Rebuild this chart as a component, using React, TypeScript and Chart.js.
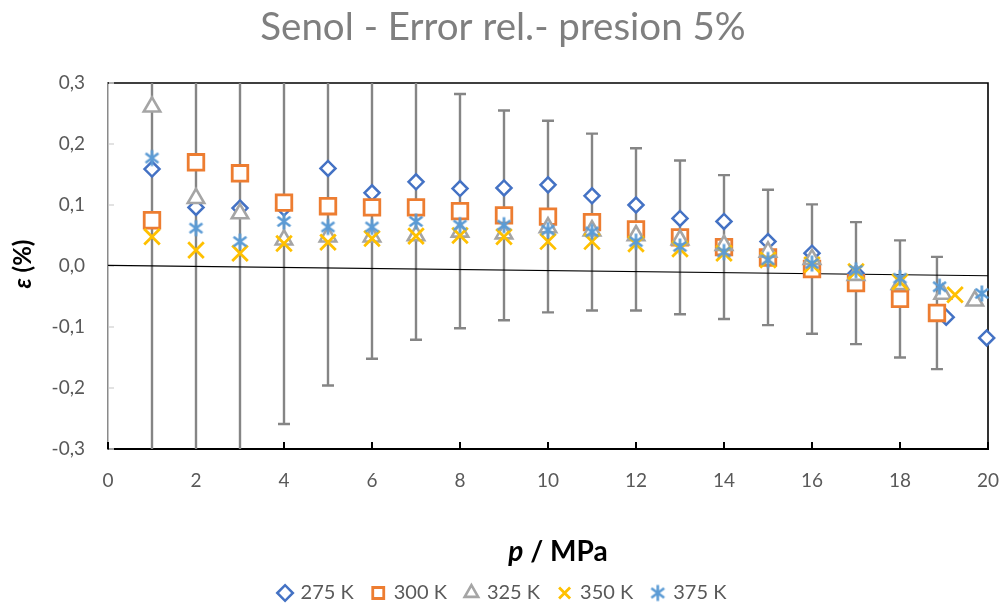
import React, { useEffect, useRef } from "react";
import { Chart, registerables } from "chart.js";

Chart.register(...registerables);

// Relative pressure error (%) per isotherm, p in MPa
const p275 = [1, 2, 3, 4, 5, 6, 7, 8, 9, 10, 11, 12, 13, 14, 15, 16, 17, 18, 19.05, 19.97];
const e275 = [0.159, 0.096, 0.095, 0.095, 0.16, 0.12, 0.138, 0.127, 0.128, 0.133, 0.115, 0.1, 0.078, 0.073, 0.04, 0.021, -0.012, -0.04, -0.084, -0.118];

const p300 = [1, 2, 3, 4, 5, 6, 7, 8, 9, 10, 11, 12, 13, 14, 15, 16, 17, 18, 18.84];
const e300 = [0.075, 0.17, 0.152, 0.104, 0.098, 0.096, 0.096, 0.09, 0.083, 0.081, 0.072, 0.06, 0.047, 0.031, 0.014, -0.005, -0.028, -0.054, -0.077];
// uncertainty (±) attached to the 300 K series
const u300 = [1.45, 0.73, 0.49, 0.363, 0.294, 0.248, 0.217, 0.192, 0.172, 0.157, 0.145, 0.133, 0.126, 0.118, 0.111, 0.106, 0.1, 0.096, 0.092];

const p325 = [1, 2, 3, 4, 5, 6, 7, 8, 9, 10, 11, 12, 13, 14, 15, 16, 17, 18, 18.97, 19.7];
const e325 = [0.261, 0.111, 0.086, 0.043, 0.048, 0.048, 0.05, 0.056, 0.053, 0.063, 0.058, 0.05, 0.043, 0.034, 0.023, 0.011, -0.015, -0.03, -0.046, -0.057];

const p350 = [1, 2, 3, 4, 5, 6, 7, 8, 9, 10, 11, 12, 13, 14, 15, 16, 17, 18, 19.25];
const e350 = [0.048, 0.026, 0.021, 0.037, 0.039, 0.045, 0.049, 0.05, 0.048, 0.04, 0.04, 0.036, 0.028, 0.021, 0.01, 0.002, -0.009, -0.026, -0.047];

const p375 = [1, 2, 3, 4, 5, 6, 7, 8, 9, 10, 11, 12, 13, 14, 15, 16, 17, 18, 18.9, 19.86];
const e375 = [0.177, 0.062, 0.04, 0.073, 0.064, 0.064, 0.073, 0.067, 0.067, 0.059, 0.056, 0.04, 0.032, 0.023, 0.01, 0.004, -0.007, -0.02, -0.034, -0.045];

// linear trend line end points
const trendP = [0, 20];
const trendE = [0.001, -0.016];

const seriesLabels = ["275 K", "300 K", "325 K", "350 K", "375 K"];
const titleText = "Senol - Error rel.- presion 5%";

const FONT = "Lato, 'DejaVu Sans', sans-serif";
const TEXT_GRAY = "#595959";
const PLOT_BOTTOM = 449;
const PAD_BOTTOM = -7;

const toPoints = (xs: number[], ys: number[]) => xs.map((x, i) => ({ x, y: ys[i] }));

function makeAsterisk(color: string, size: number) {
  const c = document.createElement("canvas");
  c.width = size;
  c.height = size;
  const g = c.getContext("2d")!;
  const m = size / 2;
  const r = size / 2 - 1.5;
  g.strokeStyle = color;
  g.lineWidth = 2.6;
  g.beginPath();
  g.moveTo(m, m - r);
  g.lineTo(m, m + r);
  g.moveTo(m - r * 0.8, m - r * 0.6);
  g.lineTo(m + r * 0.8, m + r * 0.6);
  g.moveTo(m + r * 0.8, m - r * 0.6);
  g.lineTo(m - r * 0.8, m + r * 0.6);
  g.stroke();
  return c;
}

const decorPlugin = {
  id: "decor",
  beforeDatasetsDraw(chart: any) {
    const { ctx, chartArea: a, scales } = chart;
    const xs = scales.x;
    const ys = scales.y;
    ctx.save();
    // plot frame: top and right edges
    ctx.strokeStyle = "#000";
    ctx.lineWidth = 1.6;
    ctx.beginPath();
    ctx.moveTo(a.left, a.top);
    ctx.lineTo(a.right, a.top);
    ctx.lineTo(a.right, a.bottom);
    ctx.stroke();
    // inner tick marks on x axis
    ctx.lineWidth = 2;
    ctx.beginPath();
    xs.ticks.forEach((t: any) => {
      const px = xs.getPixelForValue(t.value);
      ctx.moveTo(px, a.bottom);
      ctx.lineTo(px, a.bottom - 7);
    });
    ctx.stroke();
    // light inner tick marks on y axis
    ctx.strokeStyle = "#d9d9d9";
    ctx.lineWidth = 1.5;
    ctx.beginPath();
    ys.ticks.forEach((t: any) => {
      const py = ys.getPixelForValue(t.value);
      ctx.moveTo(a.left + 1, py);
      ctx.lineTo(a.left + 6, py);
    });
    ctx.stroke();
    // error bars on the 300 K series
    ctx.beginPath();
    ctx.rect(a.left, a.top, a.right - a.left, a.bottom - a.top);
    ctx.clip();
    ctx.strokeStyle = "#858585";
    ctx.lineWidth = 2.4;
    ctx.beginPath();
    p300.forEach((p, i) => {
      const px = xs.getPixelForValue(p);
      const hi = ys.getPixelForValue(e300[i] + u300[i]);
      const lo = ys.getPixelForValue(e300[i] - u300[i]);
      ctx.moveTo(px, hi);
      ctx.lineTo(px, lo);
      ctx.moveTo(px - 6, hi);
      ctx.lineTo(px + 6, hi);
      ctx.moveTo(px - 6, lo);
      ctx.lineTo(px + 6, lo);
    });
    ctx.stroke();
    ctx.restore();
  },
  afterDraw(chart: any) {
    const { ctx, chartArea: a } = chart;
    ctx.save();
    ctx.fillStyle = "#000";
    ctx.textBaseline = "middle";
    ctx.textAlign = "left";
    // x axis title: p / MPa
    const xIt = `italic bold 28px ${FONT}`;
    const xB = `bold 28px ${FONT}`;
    ctx.font = xIt;
    const w1 = ctx.measureText("p").width;
    ctx.font = xB;
    const w2 = ctx.measureText(" / MPa").width;
    let x0 = 558 - (w1 + w2) / 2;
    ctx.font = xIt;
    ctx.fillText("p", x0, 552);
    ctx.font = xB;
    ctx.fillText(" / MPa", x0 + w1, 552);
    // y axis title: ε (%)
    const yIt = `italic bold 24px ${FONT}`;
    const yB = `bold 24px ${FONT}`;
    ctx.translate(23, (a.top + a.bottom) / 2 - 2);
    ctx.rotate(-Math.PI / 2);
    ctx.font = yIt;
    const v1 = ctx.measureText("ε").width;
    ctx.font = yB;
    const v2 = ctx.measureText(" (%)").width;
    x0 = -(v1 + v2) / 2;
    ctx.font = yIt;
    ctx.fillText("ε", x0, 0);
    ctx.font = yB;
    ctx.fillText(" (%)", x0 + v1, 0);
    ctx.restore();
  },
};

export default function App() {
  const canvasRef = useRef<HTMLCanvasElement | null>(null);

  useEffect(() => {
    const star = makeAsterisk("#5B9BD5", 19);
    const common = { showLine: false, clip: false as any };
    const chart = new Chart(canvasRef.current!, {
      type: "scatter",
      data: {
        datasets: [
          {
            ...common,
            label: seriesLabels[0],
            data: toPoints(p275, e275),
            pointStyle: "rectRot",
            pointRadius: 7.5,
            pointBorderWidth: 2.5,
            borderColor: "#4472C4",
            backgroundColor: "#ffffff",
            order: 4,
          },
          {
            ...common,
            label: seriesLabels[1],
            data: toPoints(p300, e300),
            pointStyle: "rect",
            pointRadius: 11,
            pointBorderWidth: 2.8,
            borderColor: "#ED7D31",
            backgroundColor: "#ffffff",
            order: 3,
          },
          {
            ...common,
            label: seriesLabels[2],
            data: toPoints(p325, e325),
            pointStyle: "triangle",
            pointRadius: 9.5,
            pointBorderWidth: 2.6,
            borderColor: "#A5A5A5",
            backgroundColor: "#ffffff",
            order: 2,
          },
          {
            ...common,
            label: seriesLabels[3],
            data: toPoints(p350, e350),
            pointStyle: "crossRot",
            pointRadius: 11,
            pointBorderWidth: 2.8,
            borderColor: "#FFC000",
            backgroundColor: "#FFC000",
            order: 1,
          },
          {
            ...common,
            label: seriesLabels[4],
            data: toPoints(p375, e375),
            pointStyle: star as any,
            pointRadius: 9,
            pointBorderWidth: 2.6,
            borderColor: "#5B9BD5",
            backgroundColor: "#5B9BD5",
            order: 0,
          },
          {
            label: "trend",
            data: toPoints(trendP, trendE),
            showLine: true,
            borderColor: "#000000",
            borderWidth: 1.2,
            pointRadius: 0,
            order: 10,
          },
        ],
      },
      options: {
        animation: false,
        responsive: true,
        maintainAspectRatio: false,
        layout: { autoPadding: false, padding: { left: 0, right: -3, top: 0, bottom: PAD_BOTTOM } },
        plugins: {
          title: {
            display: true,
            text: titleText,
            color: "#7f7f7f",
            font: { family: FONT, size: 38.5, weight: "normal" },
            padding: { top: 4, bottom: 32.8 },
          },
          legend: {
            display: true,
            position: "bottom",
            labels: {
              usePointStyle: true,
              boxWidth: 11,
              boxHeight: 11,
              padding: 19,
              color: TEXT_GRAY,
              font: { family: FONT, size: 20 },
              filter: (item: any) => item.datasetIndex < 5,
              sort: (a: any, b: any) => a.datasetIndex - b.datasetIndex,
            },
          },
          tooltip: { enabled: false },
        },
        scales: {
          x: {
            type: "linear",
            min: 0,
            max: 20,
            border: { display: true, color: "#000", width: 2 },
            grid: { display: false, drawTicks: false },
            ticks: {
              stepSize: 2,
              padding: 20,
              color: TEXT_GRAY,
              font: { family: FONT, size: 19 },
            },
            afterFit: (scale: any) => {
              const legendH = scale.chart.legend ? scale.chart.legend.height : 0;
              scale.height = scale.chart.height - PAD_BOTTOM - legendH - PLOT_BOTTOM;
              scale.paddingLeft = 0;
              scale.paddingRight = 15;
            },
          },
          y: {
            type: "linear",
            min: -0.3,
            max: 0.3,
            border: { display: true, color: "#8a8a8a", width: 1.5 },
            grid: { display: false, drawTicks: false },
            ticks: {
              stepSize: 0.1,
              padding: 23,
              color: TEXT_GRAY,
              font: { family: FONT, size: 19 },
              callback: (v: any) => Number(v).toFixed(1).replace(".", ","),
            },
            afterFit: (scale: any) => {
              scale.width = 108;
            },
          },
        },
      },
      plugins: [decorPlugin],
    });
    return () => chart.destroy();
  }, []);

  return (
    <div style={{ position: "absolute", left: 0, top: 0, width: 1003, height: 606, background: "#fff" }}>
      <canvas ref={canvasRef} />
    </div>
  );
}
